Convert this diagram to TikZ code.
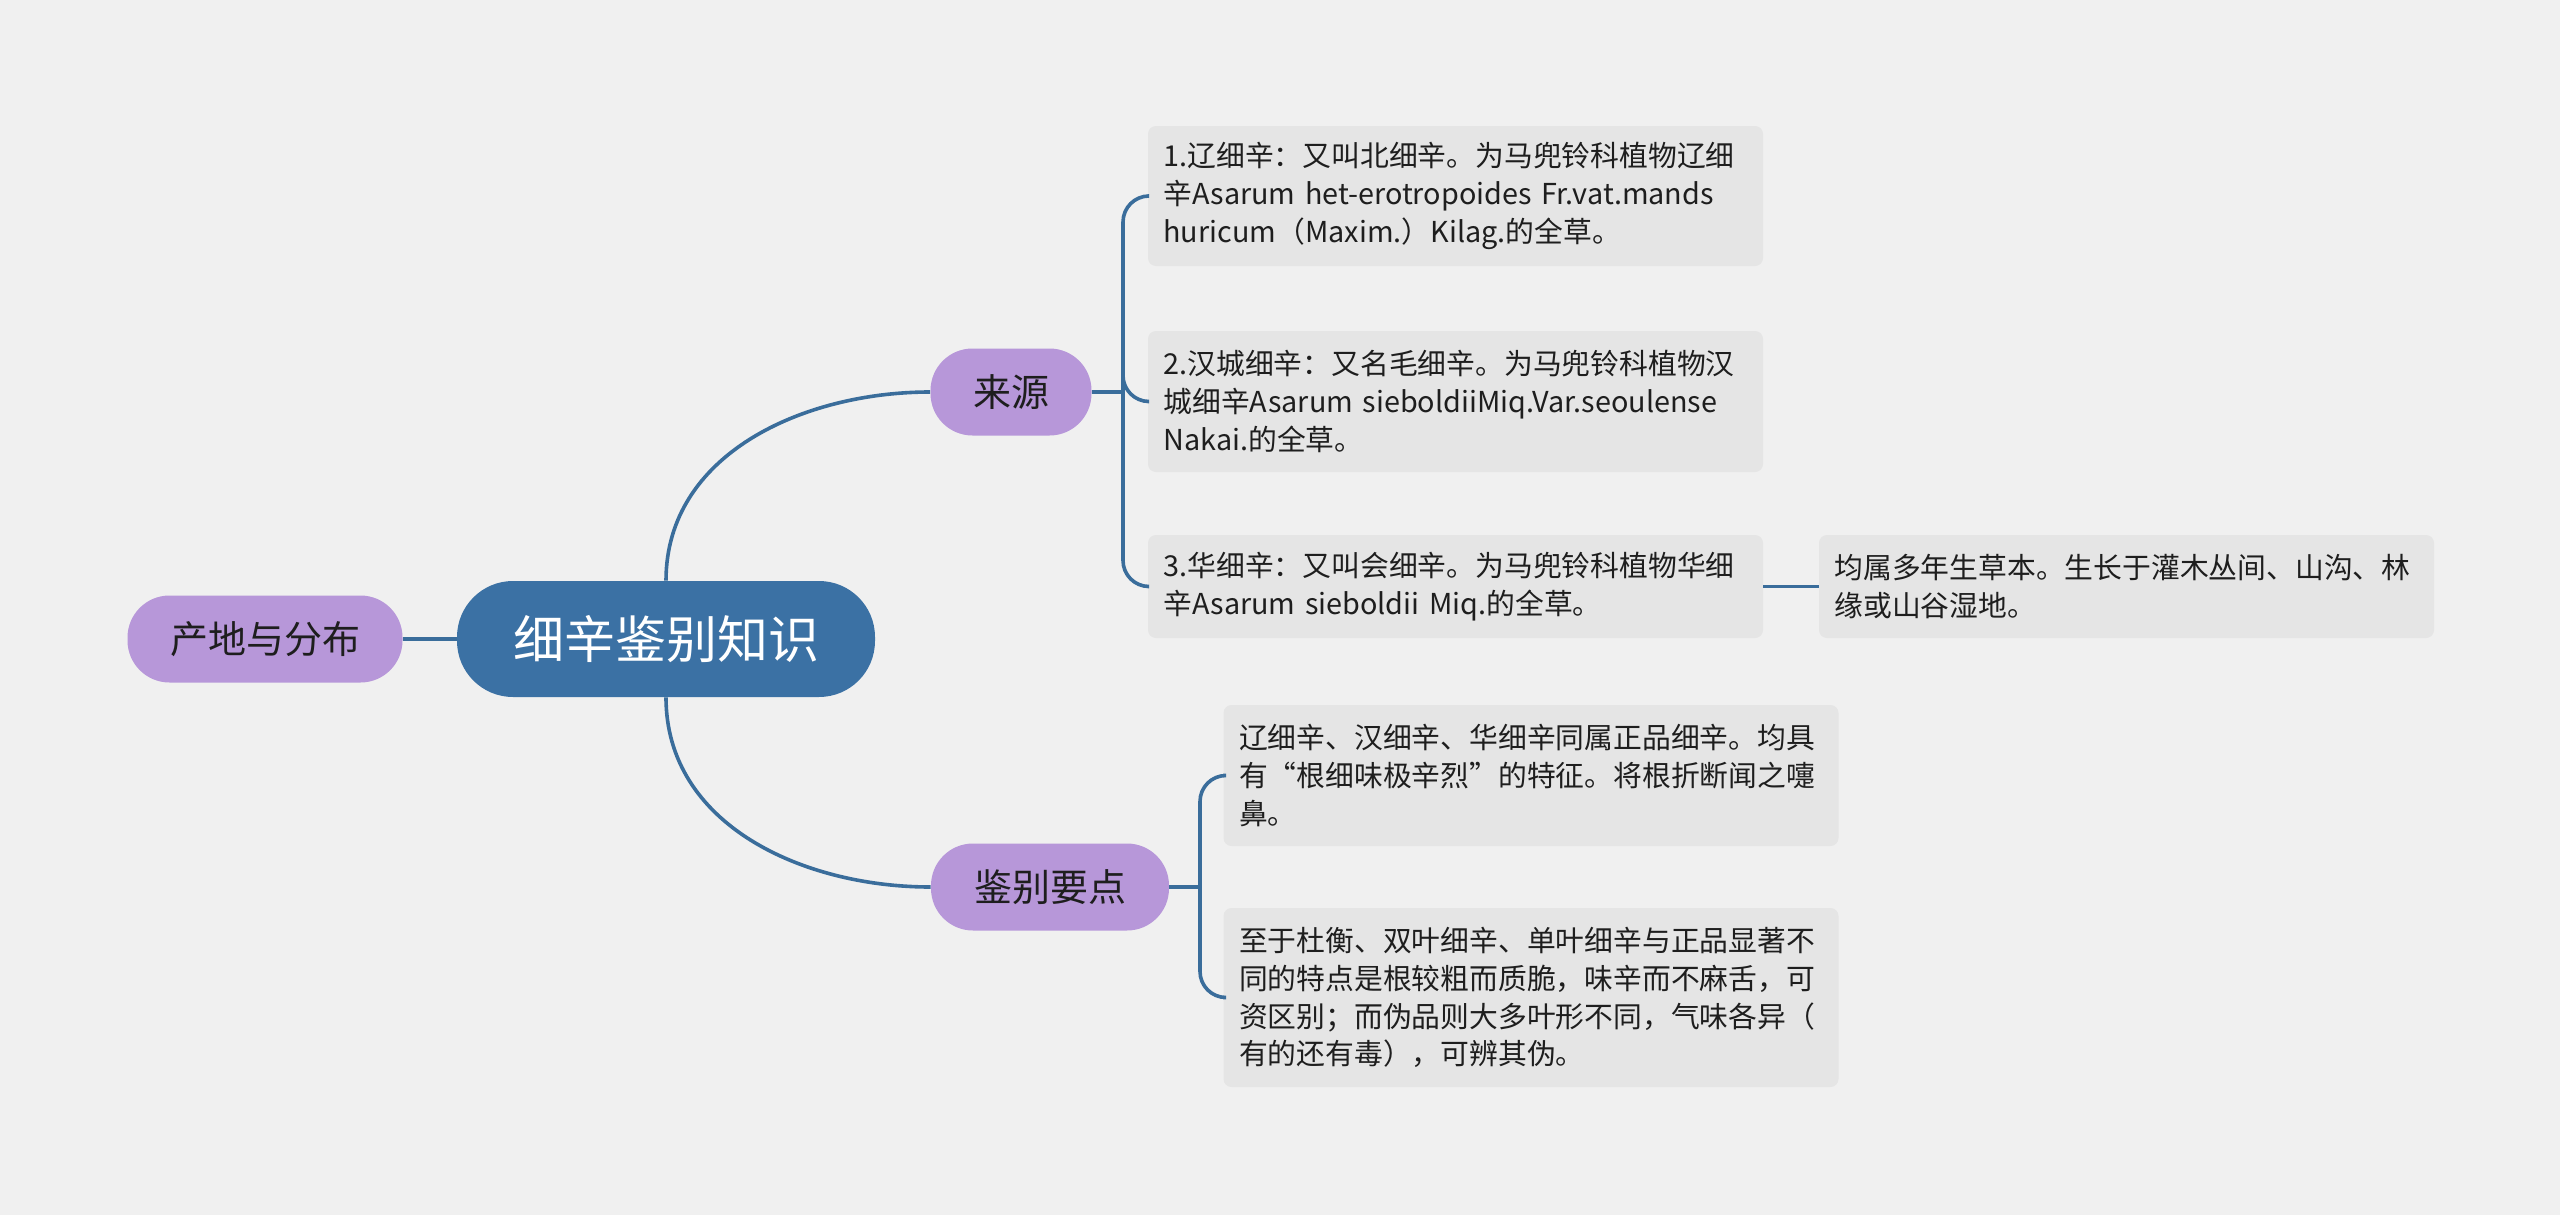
\documentclass[tikz,border=0pt]{standalone}
\usepackage{fontspec}
\setmainfont[WordSpace=0.8]{Noto Sans CJK SC}
\usepackage{tikz}
\usetikzlibrary{positioning}
\definecolor{bg}{HTML}{F0F0F0}
\definecolor{rootblue}{HTML}{3B71A4}
\definecolor{lilac}{HTML}{B797D9}
\definecolor{leafgray}{HTML}{E5E5E5}
\definecolor{linkblue}{HTML}{3A6D9B}
\definecolor{ink}{HTML}{1E1E1E}

\begin{document}
\begin{tikzpicture}[x=0.5pt,y=-0.5pt,
  rootbox/.style={fill=rootblue,text=white,rounded corners=28pt,minimum width=209pt,minimum height=58pt,font=\fontsize{25.5}{30}\selectfont},
  topic/.style={fill=lilac,text=ink,rounded corners=21pt,minimum height=43.5pt,font=\fontsize{19}{22}\selectfont},
  leaf/.style={fill=leafgray,text=ink,rounded corners=4pt,align=left,text width=292pt,inner xsep=7.75pt,font=\fontsize{14.4}{18.9}\selectfont},
  link/.style={draw=linkblue,line width=1.8pt}]
  % Background
  \fill[bg] (0,0) rectangle (2560,1215);
  \useasboundingbox (0,0) rectangle (2560,1215);
  % Centre and topics
  \node[rootbox] (root) at (666,639) {细辛鉴别知识};
  \node[topic,minimum width=137.5pt] (place) at (265,639) {产地与分布};
  \node[topic,minimum width=80.5pt] (src) at (1011,392) {来源};
  \node[topic,minimum width=119pt] (ident) at (1050,887) {鉴别要点};
  % Leaves
  \node[leaf,minimum height=70pt] (l1) at (1455.5,196) {1.辽细辛：又叫北细辛。为马兜铃科植物辽细\\辛Asarum het-erotropoides Fr.vat.mands\\huricum（Maxim.）Kilag.的全草。};
  \node[leaf,minimum height=70.5pt] (l2) at (1455.5,401.5) {2.汉城细辛：又名毛细辛。为马兜铃科植物汉\\城细辛Asarum sieboldiiMiq.Var.seoulense\\Nakai.的全草。};
  \node[leaf,minimum height=51.5pt] (l3) at (1455.5,586.5) {3.华细辛：又叫会细辛。为马兜铃科植物华细\\辛Asarum sieboldii Miq.的全草。};
  \node[leaf,minimum height=51.5pt] (l4) at (2126.5,586.5) {均属多年生草本。生长于灌木丛间、山沟、林\\缘或山谷湿地。};
  \node[leaf,minimum height=70.5pt] (l5) at (1531,775.5) {辽细辛、汉细辛、华细辛同属正品细辛。均具\\有“根细味极辛烈”的特征。将根折断闻之嚏\\鼻。};
  \node[leaf,minimum height=89.5pt] (l6) at (1531,997.5) {至于杜衡、双叶细辛、单叶细辛与正品显著不\\同的特点是根较粗而质脆，味辛而不麻舌，可\\资区别；而伪品则大多叶形不同，气味各异（\\有的还有毒），可辨其伪。};
  % Junctions
  \coordinate (srcj) at (1123,392);
  \coordinate (identj) at (1200,887);
  % Links from the centre
  \draw[link] (root.west) -- (place.east);
  \draw[link] (root.north) to[out=90,in=180] (src.west);
  \draw[link] (root.south) to[out=-90,in=180] (ident.west);
  % Brackets to leaves
  \draw[link] (src.east) -- (srcj);
  \foreach \l in {l1,l2,l3}
    \draw[link,rounded corners=13pt] (srcj) |- (\l.west);
  \draw[link] (ident.east) -- (identj);
  \foreach \l in {l5,l6}
    \draw[link,rounded corners=13pt] (identj) |- (\l.west);
  \draw[link] (l3.east) -- (l4.west);
\end{tikzpicture}
\end{document}
